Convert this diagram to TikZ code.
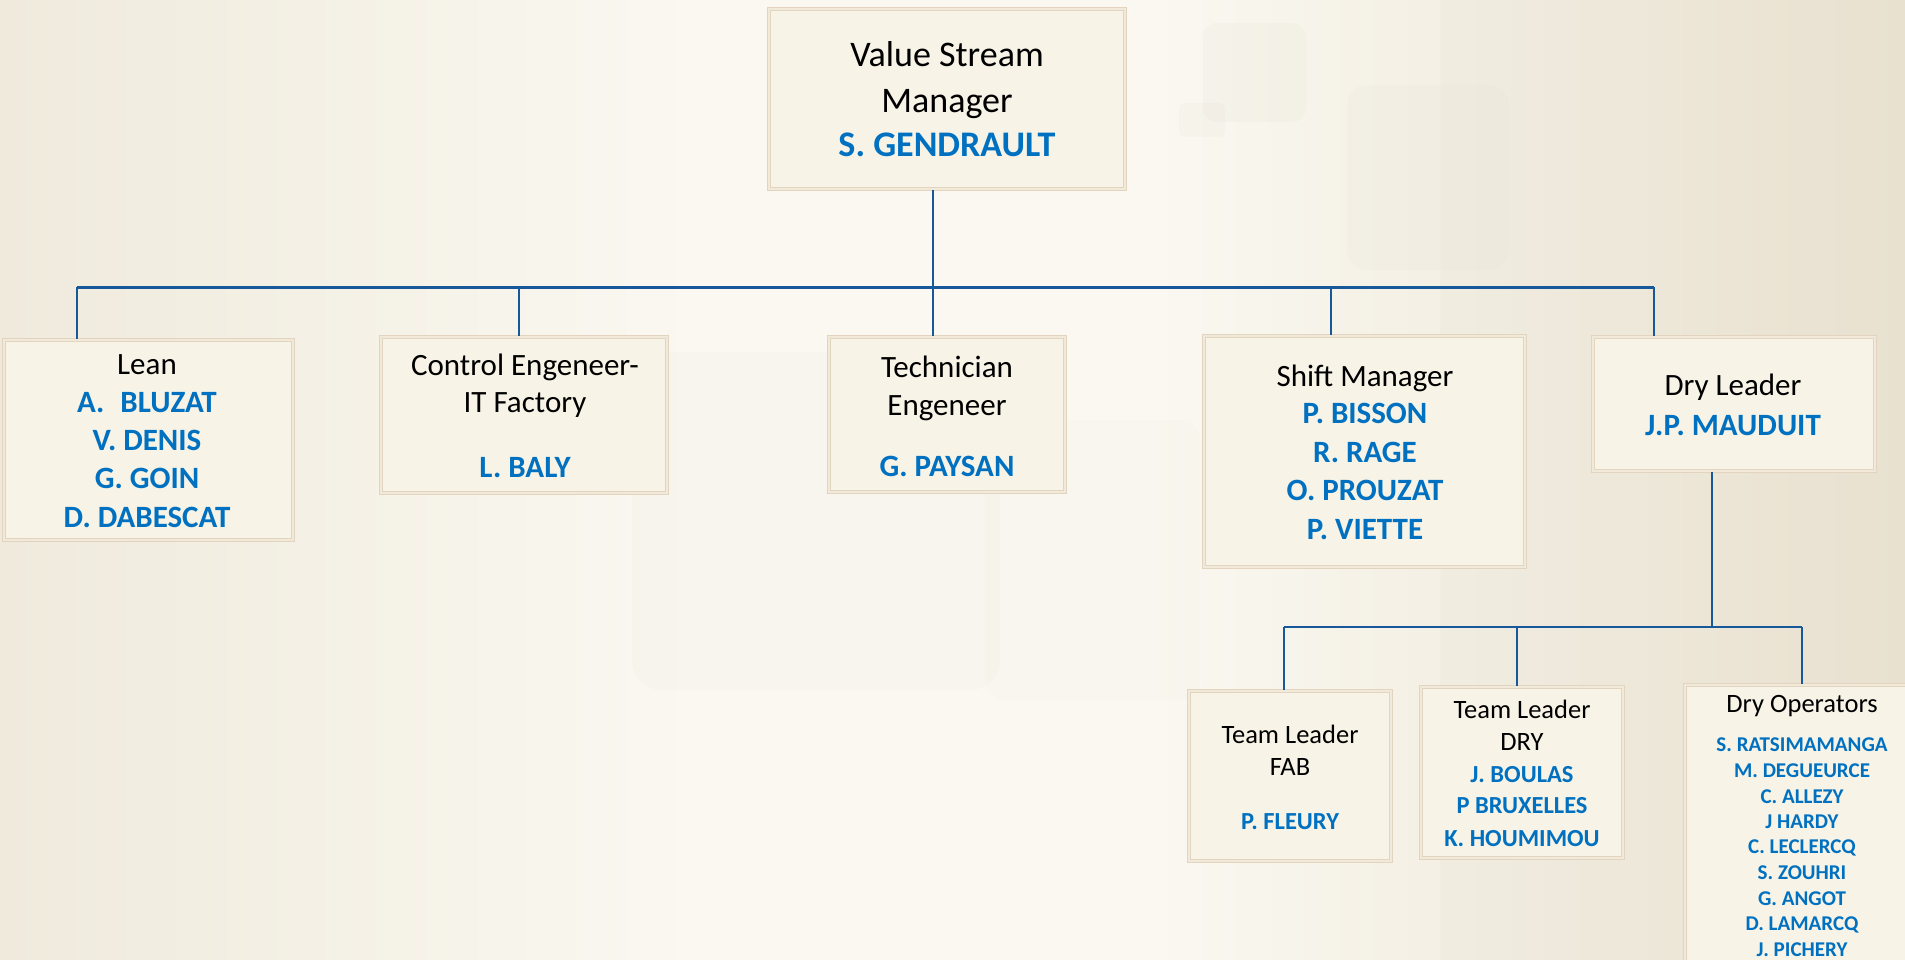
\documentclass[tikz,border=0pt]{standalone}
\usepackage{fontspec}
\setmainfont{Carlito}
\definecolor{bgmid}{RGB}{250,248,241}
\definecolor{bgleft}{RGB}{239,234,220}
\definecolor{bgright}{RGB}{234,226,208}
\definecolor{shapecol}{RGB}{225,220,205}
\definecolor{boxfill}{RGB}{247,243,230}
\definecolor{boxedge}{RGB}{226,212,190}
\definecolor{boxinner}{RGB}{241,233,217}
\definecolor{linkblue}{RGB}{22,88,153}
\definecolor{nameblue}{RGB}{0,112,192}
\tikzset{
  orgbox/.style={rectangle, draw=boxedge, line width=1.6pt, double=boxinner,
    double distance=1.2pt, fill=boxfill, inner sep=0pt},
  ln/.style={anchor=base, inner sep=0pt, outer sep=0pt},
  ttlA/.style={ln, font=\fontsize{36}{40}\selectfont, text=black},
  nmA/.style={ln, font=\fontsize{36}{40}\selectfont\bfseries, text=nameblue},
  ttlB/.style={ln, font=\fontsize{31}{36}\selectfont, text=black},
  nmB/.style={ln, font=\fontsize{31}{36}\selectfont\bfseries, text=nameblue},
  ttlC/.style={ln, font=\fontsize{26.5}{30}\selectfont, text=black},
  nmC/.style={ln, font=\fontsize{24.5}{28}\selectfont\bfseries, text=nameblue},
  nmD/.style={ln, font=\fontsize{21}{24}\selectfont\bfseries, text=nameblue},
  link/.style={draw=linkblue, line width=2pt},
  bus/.style={draw=linkblue, line width=3pt},
}
\begin{document}
\begin{tikzpicture}[x=1pt, y=-1pt]
\useasboundingbox (0,0) rectangle (1905,960);
\clip (0,0) rectangle (1905,960);
% background
\shade[left color=bgleft, right color=bgmid] (0,0) rectangle (700,960);
\fill[bgmid] (700,0) rectangle (1150,960);
\shade[left color=bgmid, right color=bgright] (1150,0) rectangle (1905,960);
\fill[shapecol, opacity=0.14] (1440,0) rectangle (1905,960);
\fill[shapecol, opacity=0.14, rounded corners=14pt] (1203,23) rectangle (1306,122);
\fill[shapecol, opacity=0.14, rounded corners=6pt] (1179,103) rectangle (1225,137);
\fill[shapecol, opacity=0.10, rounded corners=20pt] (1347,85) rectangle (1509,270);
\fill[shapecol, opacity=0.10, rounded corners=30pt] (632,352) rectangle (1000,690);
\fill[shapecol, opacity=0.07, rounded corners=20pt] (985,420) rectangle (1200,700);

% boxes
\node[orgbox, minimum width=356pt, minimum height=180pt] (vsm) at (947,99) {};
\node[orgbox, minimum width=289pt, minimum height=200pt] (lean) at (148.5,440) {};
\node[orgbox, minimum width=286pt, minimum height=156pt] (ctrl) at (524,415) {};
\node[orgbox, minimum width=236pt, minimum height=155pt] (tech) at (947,414.5) {};
\node[orgbox, minimum width=321pt, minimum height=231pt] (shift) at (1364.5,451.5) {};
\node[orgbox, minimum width=282pt, minimum height=134pt] (dryl) at (1734,404) {};
\node[orgbox, minimum width=202pt, minimum height=170pt] (fab) at (1290,776) {};
\node[orgbox, minimum width=202pt, minimum height=171pt] (drytl) at (1522,772.5) {};
\node[orgbox, minimum width=234pt, minimum height=325pt] (dryops) at (1802,847.5) {};

% texts
\node[ttlA] (vsmA) at (947,67) {Value Stream};
\node[ttlA] (vsmB) at (947,113) {Manager};
\node[nmA] (vsmC) at (947,157) {S. GENDRAULT};

\node[ttlB] (leanA) at (147,374) {Lean};
\node[nmB] (leanB) at (147,412) {A.\hspace{16pt}BLUZAT};
\node[nmB] (leanC) at (147,450) {V. DENIS};
\node[nmB] (leanD) at (147,488) {G. GOIN};
\node[nmB] (leanE) at (147,527) {D. DABESCAT};

\node[ttlB] (ctrlA) at (525,375) {Control Engeneer-};
\node[ttlB] (ctrlB) at (525,412) {IT Factory};
\node[nmB] (ctrlC) at (525,477) {L. BALY};

\node[ttlB] (techA) at (947,377) {Technician};
\node[ttlB] (techB) at (947,415) {Engeneer};
\node[nmB] (techC) at (947,476) {G. PAYSAN};

\node[ttlB] (shiftA) at (1365,386) {Shift Manager};
\node[nmB] (shiftB) at (1365,423) {P. BISSON};
\node[nmB] (shiftC) at (1365,462) {R. RAGE};
\node[nmB] (shiftD) at (1365,500) {O. PROUZAT};
\node[nmB] (shiftE) at (1365,539) {P. VIETTE};

\node[ttlB] (drylA) at (1733,395) {Dry Leader};
\node[nmB] (drylB) at (1733,435) {J.P. MAUDUIT};

\node[ttlC] (fabA) at (1290,743) {Team Leader};
\node[ttlC] (fabB) at (1290,775) {FAB};
\node[nmC] (fabC) at (1290,829) {P. FLEURY};

\node[ttlC] (drytlA) at (1522,718) {Team Leader};
\node[ttlC] (drytlB) at (1522,750) {DRY};
\node[nmC] (drytlC) at (1522,782) {J. BOULAS};
\node[nmC] (drytlD) at (1522,813) {P BRUXELLES};
\node[nmC] (drytlE) at (1522,846) {K. HOUMIMOU};

\node[ttlC] (opsA) at (1802,712) {Dry Operators};
\node[nmD] (ops1) at (1802,751) {S. RATSIMAMANGA};
\node[nmD] (ops2) at (1802,777) {M. DEGUEURCE};
\node[nmD] (ops3) at (1802,803) {C. ALLEZY};
\node[nmD] (ops4) at (1802,828) {J HARDY};
\node[nmD] (ops5) at (1802,853) {C. LECLERCQ};
\node[nmD] (ops6) at (1802,879) {S. ZOUHRI};
\node[nmD] (ops7) at (1802,905) {G. ANGOT};
\node[nmD] (ops8) at (1802,930) {D. LAMARCQ};
\node[nmD] (ops9) at (1802,956) {J. PICHERY};

% connectors, level 1
\coordinate (b0) at (77,287);
\coordinate (b1) at (519,287);
\coordinate (b2) at (933,287);
\coordinate (b3) at (1331,287);
\coordinate (b4) at (1654,287);
\draw[link] (vsm.south -| b2) -- (b2);
\draw[bus] (b0) -- (b4);
\draw[link] (b0) -- (lean.north -| b0);
\draw[link] (b1) -- (ctrl.north -| b1);
\draw[link] (b2) -- (tech.north -| b2);
\draw[link] (b3) -- (shift.north -| b3);
\draw[link] (b4) -- (dryl.north -| b4);

% connectors, level 2
\coordinate (c0) at (1284,627);
\coordinate (c1) at (1517,627);
\coordinate (c2) at (1712,627);
\coordinate (c3) at (1802,627);
\draw[link] (dryl.south -| c2) -- (c2);
\draw[link, line width=2.5pt] (c0) -- (c3);
\draw[link] (c0) -- (fab.north -| c0);
\draw[link] (c1) -- (drytl.north -| c1);
\draw[link] (c3) -- (dryops.north -| c3);
\end{tikzpicture}
\end{document}
